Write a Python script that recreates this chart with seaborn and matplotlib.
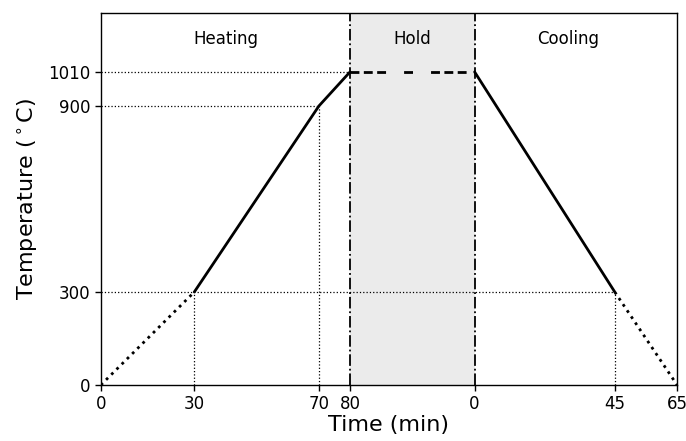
import matplotlib
matplotlib.use("Agg")
import matplotlib.pyplot as plt
import seaborn as sns
import numpy as np

# ---- data ----
heat_time = [0, 30, 70, 80]          # min
heat_temp = [0, 300, 900, 1010]      # deg C
hold_len = 40                        # display width of hold stage
hold_temp = [1010, 1010]
cool_time = [0, 45, 65]              # min
cool_temp = [1010, 300, 0]
tick_labels = ["0", "30", "70", "80", "0", "45", "65"]
ytick_vals = [0, 300, 900, 1010]
stage_names = ["Heating", "Hold", "Cooling"]

sns.set_style("ticks")
plt.rcParams['font.family'] = ['DejaVu Sans']
plt.rcParams['text.color'] = 'k'
plt.rcParams['axes.labelcolor'] = 'k'
plt.rcParams['xtick.color'] = 'k'
plt.rcParams['ytick.color'] = 'k'

fig = plt.figure(figsize=(6.86, 4.41), dpi=100)
ax = fig.add_axes([0.147, 0.127, 0.84, 0.8435])

hold_start = heat_time[-1]
hold_end = hold_start + hold_len
cool_x = [hold_end + t for t in cool_time]
xmax = cool_x[-1]

# shaded hold region
ax.axvspan(hold_start, hold_end, color="#ebebeb", zorder=0, lw=0)

# reference lines
ref_kw = dict(color="k", lw=0.9, ls=":", zorder=1)
ax.plot([0, hold_start], [heat_temp[3]] * 2, **ref_kw)
ax.plot([0, heat_time[2]], [heat_temp[2]] * 2, **ref_kw)
ax.plot([0, cool_x[1]], [heat_temp[1]] * 2, **ref_kw)
ax.plot([heat_time[1]] * 2, [0, heat_temp[1]], **ref_kw)
ax.plot([heat_time[2]] * 2, [0, heat_temp[2]], **ref_kw)
ax.plot([cool_x[1]] * 2, [0, cool_temp[1]], **ref_kw)

# stage boundaries
ax.axvline(hold_start, color="k", ls="-.", lw=1.3, zorder=2)
ax.axvline(hold_end, color="k", ls="-.", lw=1.3, zorder=2)

# heating
sns.lineplot(x=heat_time[:2], y=heat_temp[:2], ax=ax, color="k", lw=2, ls=":", zorder=3)
sns.lineplot(x=heat_time[1:], y=heat_temp[1:], ax=ax, color="k", lw=2, zorder=3)
# hold
sns.lineplot(x=[hold_start, hold_end], y=hold_temp, ax=ax, color="k", lw=2,
             ls=(0, (3.2, 1.6, 3.2, 1.6, 3.2, 6.5, 3.2, 6.5)), zorder=3)
# cooling
sns.lineplot(x=cool_x[:2], y=cool_temp[:2], ax=ax, color="k", lw=2, zorder=3)
sns.lineplot(x=cool_x[1:], y=cool_temp[1:], ax=ax, color="k", lw=2, ls=":", zorder=3)

ax.set_xlim(0, xmax)
ax.set_ylim(0, 1200)
ax.set_xticks([0] + heat_time[1:] + cool_x)
ax.set_xticklabels(tick_labels, fontsize=12)
ax.set_yticks(ytick_vals)
ax.set_yticklabels([str(v) for v in ytick_vals], fontsize=12)
ax.tick_params(direction="out", length=4, width=1, colors="k")
for s in ax.spines.values():
    s.set_color("k")
    s.set_linewidth(1)

ax.set_xlabel("Time (min)", fontsize=16, labelpad=1)
ax.set_ylabel(r"Temperature ($^\circ$C)", fontsize=16, labelpad=6)

ax.text(hold_start / 2, 1115, stage_names[0], ha="center", va="center", fontsize=12, color="k")
ax.text((hold_start + hold_end) / 2, 1115, stage_names[1], ha="center", va="center", fontsize=12, color="k")
ax.text(150, 1115, stage_names[2], ha="center", va="center", fontsize=12, color="k")

fig.savefig("out.png", dpi=100)
